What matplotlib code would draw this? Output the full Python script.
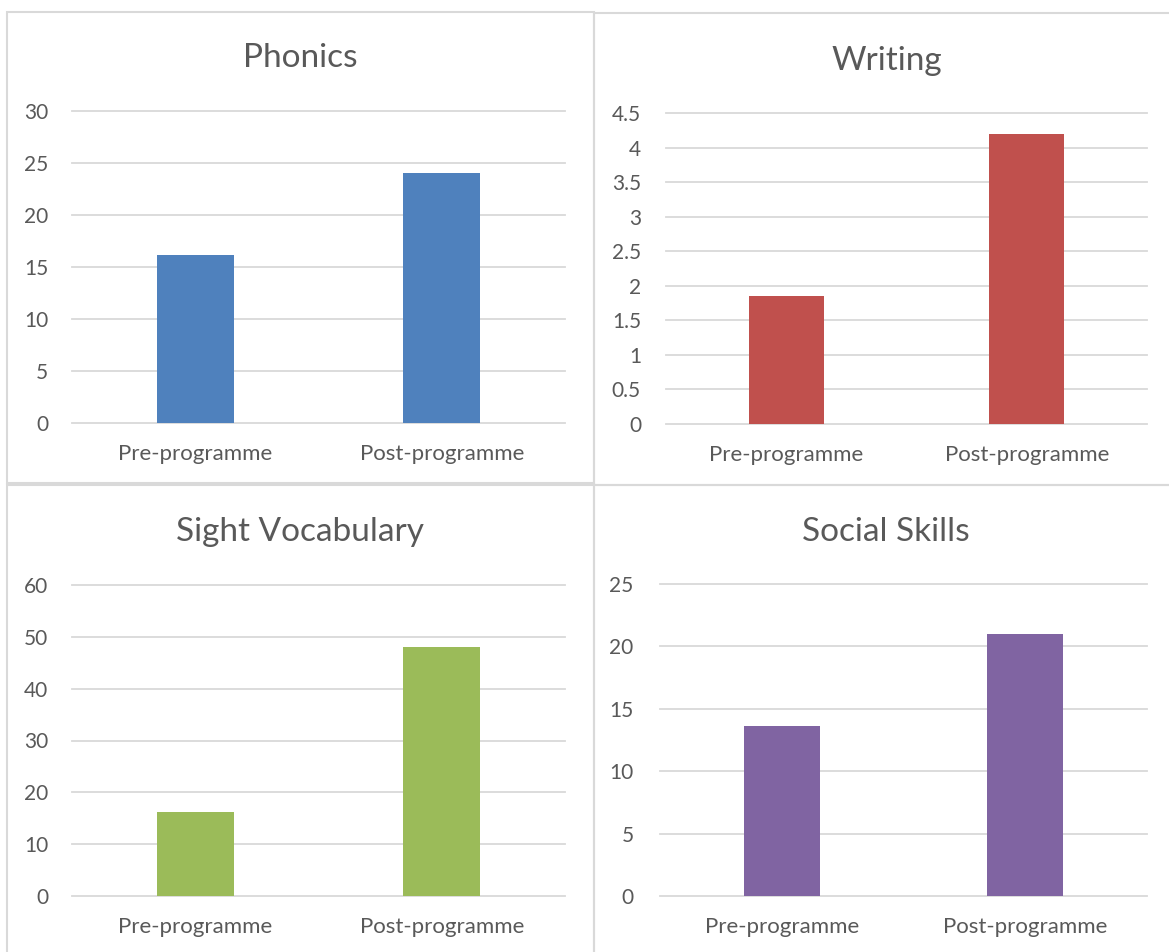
import matplotlib
matplotlib.use("Agg")
import matplotlib.pyplot as plt
from matplotlib.patches import Rectangle

categories = ["Pre-programme", "Post-programme"]
phonics = [16.2, 24.0]
writing = [1.85, 4.2]
sight_vocab = [16.2, 48.0]
social_skills = [13.6, 21.0]

titles = ["Phonics", "Writing", "Sight Vocabulary", "Social Skills"]
series = [phonics, writing, sight_vocab, social_skills]
yticks = [
    [0, 5, 10, 15, 20, 25, 30],
    [0, 0.5, 1, 1.5, 2, 2.5, 3, 3.5, 4, 4.5],
    [0, 10, 20, 30, 40, 50, 60],
    [0, 5, 10, 15, 20, 25],
]
ytick_labels = [
    ["0", "5", "10", "15", "20", "25", "30"],
    ["0", "0.5", "1", "1.5", "2", "2.5", "3", "3.5", "4", "4.5"],
    ["0", "10", "20", "30", "40", "50", "60"],
    ["0", "5", "10", "15", "20", "25"],
]
colors = ["#4F81BD", "#C0504D", "#9BBB59", "#8064A2"]

W, H = 1169, 952
fig = plt.figure(figsize=(W / 100, H / 100), dpi=100)
fig.patch.set_facecolor("white")

FONT = "Lato"
TXT = "#595959"
GRID = "#D9D9D9"

# layout in pixels: (axes left, right, top, bottom), title center (x, y), panel box (x0, y0, x1, y1)
axes_px = [(72, 565, 111, 423), (666, 1147, 113, 424), (72, 565, 585, 896), (660, 1147, 584, 896)]
title_px = [(300, 58), (887, 61), (300, 532), (886, 532)]
panel_px = [(7, 12, 594, 483), (594, 13, 1175, 485), (7, 485, 594, 960), (594, 485, 1175, 960)]
ypads = [17, 18, 17, 19]

def fx(x):
    return x / W

def fy(y):
    return 1 - y / H

for (x0, y0, x1, y1) in panel_px:
    fig.patches.append(Rectangle((fx(x0), fy(y1)), fx(x1) - fx(x0), fy(y0) - fy(y1),
                                 transform=fig.transFigure, fill=False,
                                 edgecolor=GRID, linewidth=1.5, zorder=0))

for i in range(4):
    l, r, t, b = axes_px[i]
    ax = fig.add_axes([fx(l), fy(b), fx(r) - fx(l), fy(t) - fy(b)])
    ax.bar(range(len(categories)), series[i], width=0.313, color=colors[i], zorder=3)
    ax.set_xlim(-0.5, len(categories) - 0.5)
    ax.set_ylim(yticks[i][0], yticks[i][-1])
    ax.set_yticks(yticks[i])
    ax.set_yticklabels(ytick_labels[i])
    ax.set_xticks(range(len(categories)))
    ax.set_xticklabels(categories)
    for s in ax.spines.values():
        s.set_visible(False)
    ax.tick_params(axis="both", length=0, labelcolor=TXT)
    ax.tick_params(axis="y", pad=ypads[i], labelsize=15)
    ax.tick_params(axis="x", pad=15, labelsize=16)
    for lab in ax.get_xticklabels() + ax.get_yticklabels():
        lab.set_fontfamily(FONT)
    for v in yticks[i]:
        ax.axhline(v, color=GRID, linewidth=1.3, zorder=1, clip_on=False)
    ax.set_facecolor("none")
    tx, ty = title_px[i]
    fig.text(fx(tx), fy(ty), titles[i], ha="center", va="center",
             fontsize=24, color=TXT, fontfamily=FONT)

fig.savefig("out.png", dpi=100, facecolor="white")
